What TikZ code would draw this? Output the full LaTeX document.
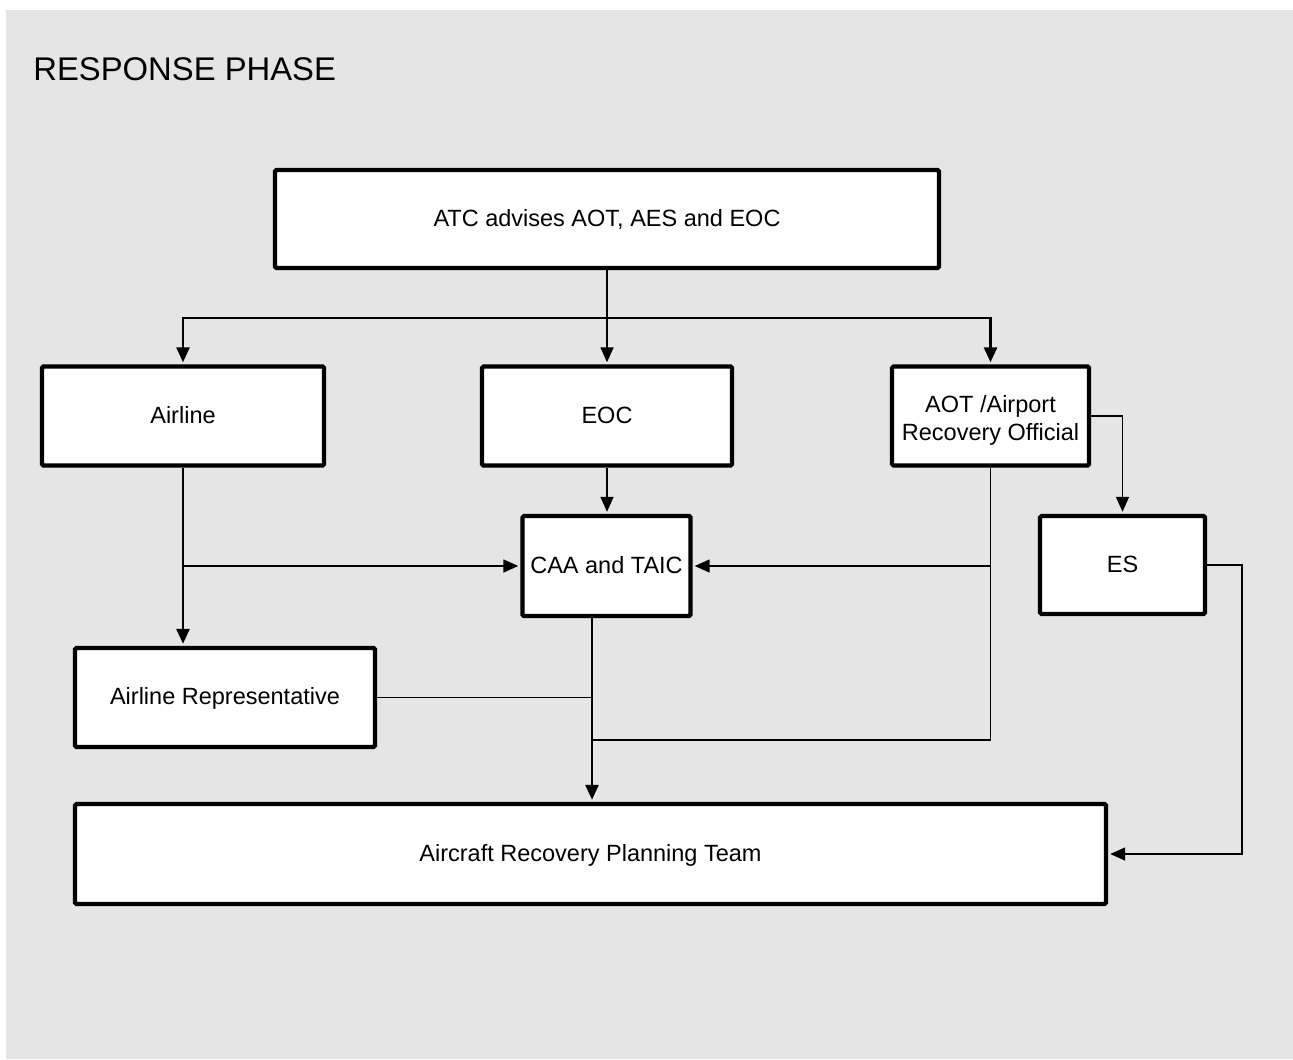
\documentclass[tikz,border=0pt]{standalone}
\usepackage{fontspec}
\setmainfont{Liberation Sans}
\usetikzlibrary{arrows.meta,positioning,calc}
\definecolor{bggray}{HTML}{E5E5E5}

\begin{document}
\begin{tikzpicture}[
  x=0.5pt,y=-0.5pt,
  font=\fontsize{11.75}{14}\selectfont,
  blk/.style={rectangle,draw,line width=2.2pt,fill=white,align=center,inner sep=0pt,rounded corners=0.8pt},
  oneline/.style={blk,text height=0.72em,text depth=0pt},
  lnthin/.style={line width=0.75pt},
  lnthick/.style={line width=1.4pt},
  >={Triangle[length=7.5pt,width=6.5pt]}
]
\useasboundingbox (0,0) rectangle (1293,1059);
\fill[bggray] (6,10) rectangle (1293,1059);
\node[anchor=west,inner sep=0pt,font=\fontsize{16.4}{20}\selectfont] (title) at (33,69) {RESPONSE PHASE};
\node[oneline,minimum width=332pt,minimum height=49pt] (atc) at (607,219) {ATC advises AOT, AES and EOC};
\node[oneline,minimum width=141pt,minimum height=49.5pt] (airline) at (183,416) {Airline};
\node[oneline,minimum width=125pt,minimum height=49.5pt] (eoc) at (607,416) {EOC};
\node[blk,minimum width=98.5pt,minimum height=49.5pt] (aot) at (990.5,416) {\rule{0pt}{12.6pt}AOT /Airport\\Recovery Official};
\node[oneline,minimum width=84pt,minimum height=50pt] (caa) at (606.5,566) {CAA and TAIC};
\node[oneline,minimum width=82.5pt,minimum height=49pt] (es) at (1122.5,565) {ES};
\node[oneline,minimum width=150pt,minimum height=49.5pt] (rep) at (225,697.5) {Airline Representative};
\node[oneline,minimum width=515.5pt,minimum height=50pt] (arpt) at (590.5,854) {Aircraft Recovery Planning Team};
% junctions
\coordinate (split) at (607,318);
\coordinate (mrg) at (592,740);
\coordinate (esr) at (1242,566);
% ATC to first row
\draw[lnthick] (atc.south) -- (split);
\draw[lnthick,->,shorten >=1pt] (split) -| (airline.north);
\draw[lnthick,->,shorten >=1pt] (split) -| (aot.north);
\draw[lnthin,->,shorten >=1pt] (split) -- (eoc.north);
% airline
\draw[lnthick,->,shorten >=1pt] (airline.south) -- (airline.south |- rep.north);
\draw[lnthin,->,shorten >=1pt] (airline.south |- caa.west) -- (caa.west);
% EOC and AOT
\draw[lnthin,->,shorten >=1pt] (eoc.south) -- (eoc.south |- caa.north);
\draw[lnthin] (aot.south) |- (mrg);
\draw[lnthin,->,shorten >=1pt] (aot.south |- caa.east) -- (caa.east);
\draw[lnthin,->,shorten >=1pt] (aot.east) -| (es.north);
% into planning team
\draw[lnthin] (caa.south -| mrg) -- (mrg);
\draw[lnthin] (rep.east) -- (rep.east -| mrg);
\draw[lnthick,->,shorten >=1pt] (mrg) -- (mrg |- arpt.north);
\draw[lnthin,->,shorten >=1pt] (es.east) -| (esr) |- (arpt.east);
\end{tikzpicture}
\end{document}
